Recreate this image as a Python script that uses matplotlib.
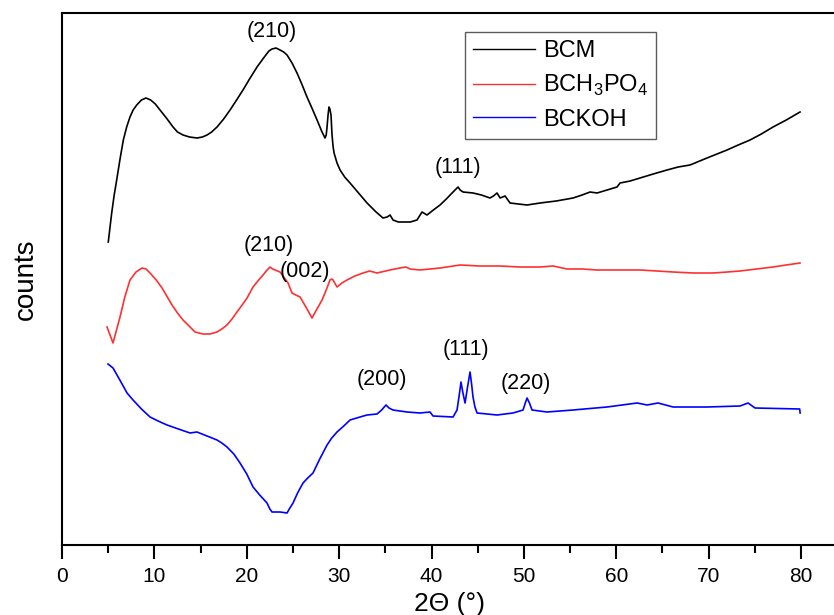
import matplotlib
matplotlib.use("Agg")
import matplotlib.pyplot as plt

plt.rcParams['font.family'] = ['Liberation Sans', 'DejaVu Sans']
plt.rcParams['mathtext.fontset'] = 'custom'
plt.rcParams['mathtext.rm'] = 'Liberation Sans'

# ---- data (2theta in degrees, counts in arbitrary offset units) ----
bcm_x = [5.01, 5.2, 5.38, 5.65, 5.92, 6.3, 6.64, 7.0, 7.36, 7.7, 8.09, 8.6, 9.09, 9.6, 10.1,
         10.61, 11.3, 12.02, 12.5, 13.10, 13.8, 14.61, 15.2, 15.70, 16.2, 16.78, 17.5, 18.19,
         18.9, 19.59, 20.3, 21.11, 21.9, 22.4, 22.73, 23.17, 23.6, 24.0, 24.36, 24.9, 25.44,
         26.0, 26.52, 27.1, 27.61, 28.1, 28.47, 28.6, 28.69, 28.8, 28.90, 29.0, 29.12, 29.23,
         29.35, 29.45, 29.77, 30.10, 30.6, 31.18, 32.1, 33.02, 34.0, 34.75, 35.2, 35.51, 35.83,
         36.4, 36.92, 37.7, 38.43, 38.97, 39.51, 40.2, 40.92, 41.6, 42.33, 42.87, 43.1, 43.41,
         44.49, 45.4, 46.33, 46.7, 47.09, 47.42, 47.96, 48.50, 49.4, 50.34, 51.75, 53.5, 55.32,
         56.3, 57.16, 57.92, 59.0, 60.08, 60.41, 61.5, 62.57, 64.0, 65.49, 66.7, 67.98, 69.82,
         71.99, 73.2, 74.48, 75.7, 76.97, 78.4, 79.89]
bcm_y = [303, 318, 332, 350, 365, 387, 405, 418, 428, 435, 440, 445, 447, 445, 441,
         435, 427, 418, 413, 410, 408, 407, 408, 410, 413, 418, 426, 435,
         445, 455, 466, 478, 488, 494, 496, 497, 495, 493, 490, 482, 472,
         460, 448, 436, 425, 414, 407, 410, 418, 430, 438, 436, 430, 410,
         398, 392, 382, 375, 368, 362, 352, 342, 333, 327, 328, 330, 325,
         323, 323, 323, 325, 333, 330, 335, 340, 346, 353, 358, 355, 353,
         352, 350, 347, 349, 352, 347, 349, 342, 341, 340, 342, 344, 347,
         350, 353, 352, 355, 358, 362, 364, 367, 371, 375, 378, 380, 387,
         395, 400, 405, 411, 418, 425, 433]

bch3po4_x = [4.87, 5.20, 5.52, 5.9, 6.28, 6.8, 7.36, 8.01, 8.66, 9.1, 9.53, 10.2, 10.83, 11.4,
             11.91, 12.5, 13.10, 13.86, 14.40, 15.26, 16.0, 16.78, 17.3, 17.86, 18.4, 18.94,
             19.5, 20.03, 20.68, 21.2, 21.76, 22.2, 22.52, 22.8, 23.06, 23.60, 24.0, 24.47,
             24.90, 25.3, 25.77, 26.4, 27.06, 27.6, 28.15, 28.6, 29.01, 29.2, 29.34, 29.77,
             30.3, 30.85, 31.7, 32.59, 33.3, 34.10, 35.51, 36.59, 37.2, 37.7, 38.76, 40.92,
             43.09, 45.2, 47.42, 49.6, 51.75, 53.15, 54.67, 56.3, 57.92, 60.2, 62.57, 64.4,
             66.15, 68.3, 70.48, 72.0, 73.40, 75.2, 76.97, 78.4, 79.89]
bch3po4_y = [218, 210, 202, 215, 228, 248, 265, 273, 277, 276, 272, 265, 257, 248,
             240, 232, 225, 218, 213, 211, 211, 213, 216, 220, 226, 233,
             240, 247, 258, 264, 270, 275, 278, 276, 275, 273, 268, 262,
             252, 250, 248, 238, 227, 236, 245, 255, 265, 266, 265, 258,
             262, 265, 269, 272, 274, 272, 275, 277, 278, 276, 275, 277,
             280, 279, 279, 278, 278, 279, 276, 276, 275, 275, 275, 274,
             273, 272, 272, 273, 274, 276, 278, 280, 282]

bckoh_x = [4.98, 5.52, 6.2, 7.04, 7.69, 8.6, 9.53, 10.4, 11.37, 12.6, 13.86, 14.61, 15.7,
           16.78, 17.3, 17.86, 18.6, 19.27, 20.0, 20.68, 21.4, 22.19, 22.5, 22.73, 23.60,
           24.36, 24.6, 25.01, 25.5, 26.09, 26.6, 27.17, 27.9, 28.69, 29.2, 29.77, 30.5,
           31.18, 32.26, 33.02, 34.10, 34.6, 35.07, 35.4, 35.83, 37.35, 38.76, 39.84, 40.16,
           42.33, 42.76, 43.0, 43.19, 43.4, 43.63, 43.9, 44.17, 44.35, 44.49, 44.7, 44.93,
           47.09, 48.82, 49.91, 50.15, 50.34, 50.6, 50.88, 52.50, 55.32, 59.00, 62.25, 63.33,
           64.52, 66.15, 69.82, 73.40, 74.26, 75.02, 79.85, 79.9]
bckoh_y = [181, 177, 166, 152, 145, 136, 128, 124, 120, 116, 112, 113, 109,
           105, 102, 98, 91, 82, 71, 58, 50, 42, 36, 33, 33,
           32, 36, 42, 52, 62, 67, 72, 86, 100, 107, 113, 119,
           125, 128, 130, 131, 135, 140, 137, 135, 133, 132, 133, 129,
           128, 135, 150, 163, 152, 142, 158, 173, 160, 148, 138, 132,
           130, 132, 135, 142, 147, 142, 135, 133, 135, 138, 142, 140,
           142, 138, 138, 139, 142, 137, 136, 132]

series_labels = ['BCM', r'BCH$_\mathregular{3}$PO$_\mathregular{4}$', 'BCKOH']
series_colors = ['black', '#ff3030', '#0000ff']

peak_labels = ['(210)', '(111)', '(210)', '(002)', '(200)', '(111)', '(220)']
peak_x = [22.7, 42.9, 22.4, 26.3, 34.6, 43.7, 50.2]
peak_y = [513, 377, 299, 273, 166, 195, 162]

# ---- figure ----
W, H = 834, 615
fig = plt.figure(figsize=(W / 100, H / 100), dpi=100)
ax = fig.add_axes([62 / W, 70 / H, 776 / W, 532.5 / H])

for xs, ys, lab, col in zip([bcm_x, bch3po4_x, bckoh_x], [bcm_y, bch3po4_y, bckoh_y],
                            series_labels, series_colors):
    ax.plot(xs, ys, color=col, lw=1.2, label=lab)

for t, px, py in zip(peak_labels, peak_x, peak_y):
    ax.text(px, py, t, ha='center', va='center', fontsize=15.5)

ax.set_xlim(0, 84)
ax.set_ylim(0, 532.5)
ax.set_xticks(range(0, 81, 10))
ax.set_xticks(range(5, 81, 10), minor=True)
ax.set_yticks([])
ax.tick_params(axis='x', which='major', direction='out', length=10, width=1.5, labelsize=15, pad=6)
ax.tick_params(axis='x', which='minor', direction='out', length=6, width=1.5)
for s in ['left', 'bottom', 'top']:
    ax.spines[s].set_linewidth(1.5)
ax.spines['right'].set_visible(False)

ax.set_xlabel('2\u0398 (\u00b0)', fontsize=19, labelpad=4)
ax.set_ylabel('counts', fontsize=20, labelpad=17)

leg = ax.legend(loc='upper left', bbox_to_anchor=(403 / 776, 513 / 532.5), borderaxespad=0,
                fontsize=17, frameon=True, fancybox=False, handlelength=2.6,
                handletextpad=0.35, labelspacing=0.45, borderpad=0.35)
leg.get_frame().set_edgecolor('#333333')
leg.get_frame().set_linewidth(1.0)
for l in leg.get_lines():
    l.set_linewidth(1.0)

fig.savefig('out.png', dpi=100)
